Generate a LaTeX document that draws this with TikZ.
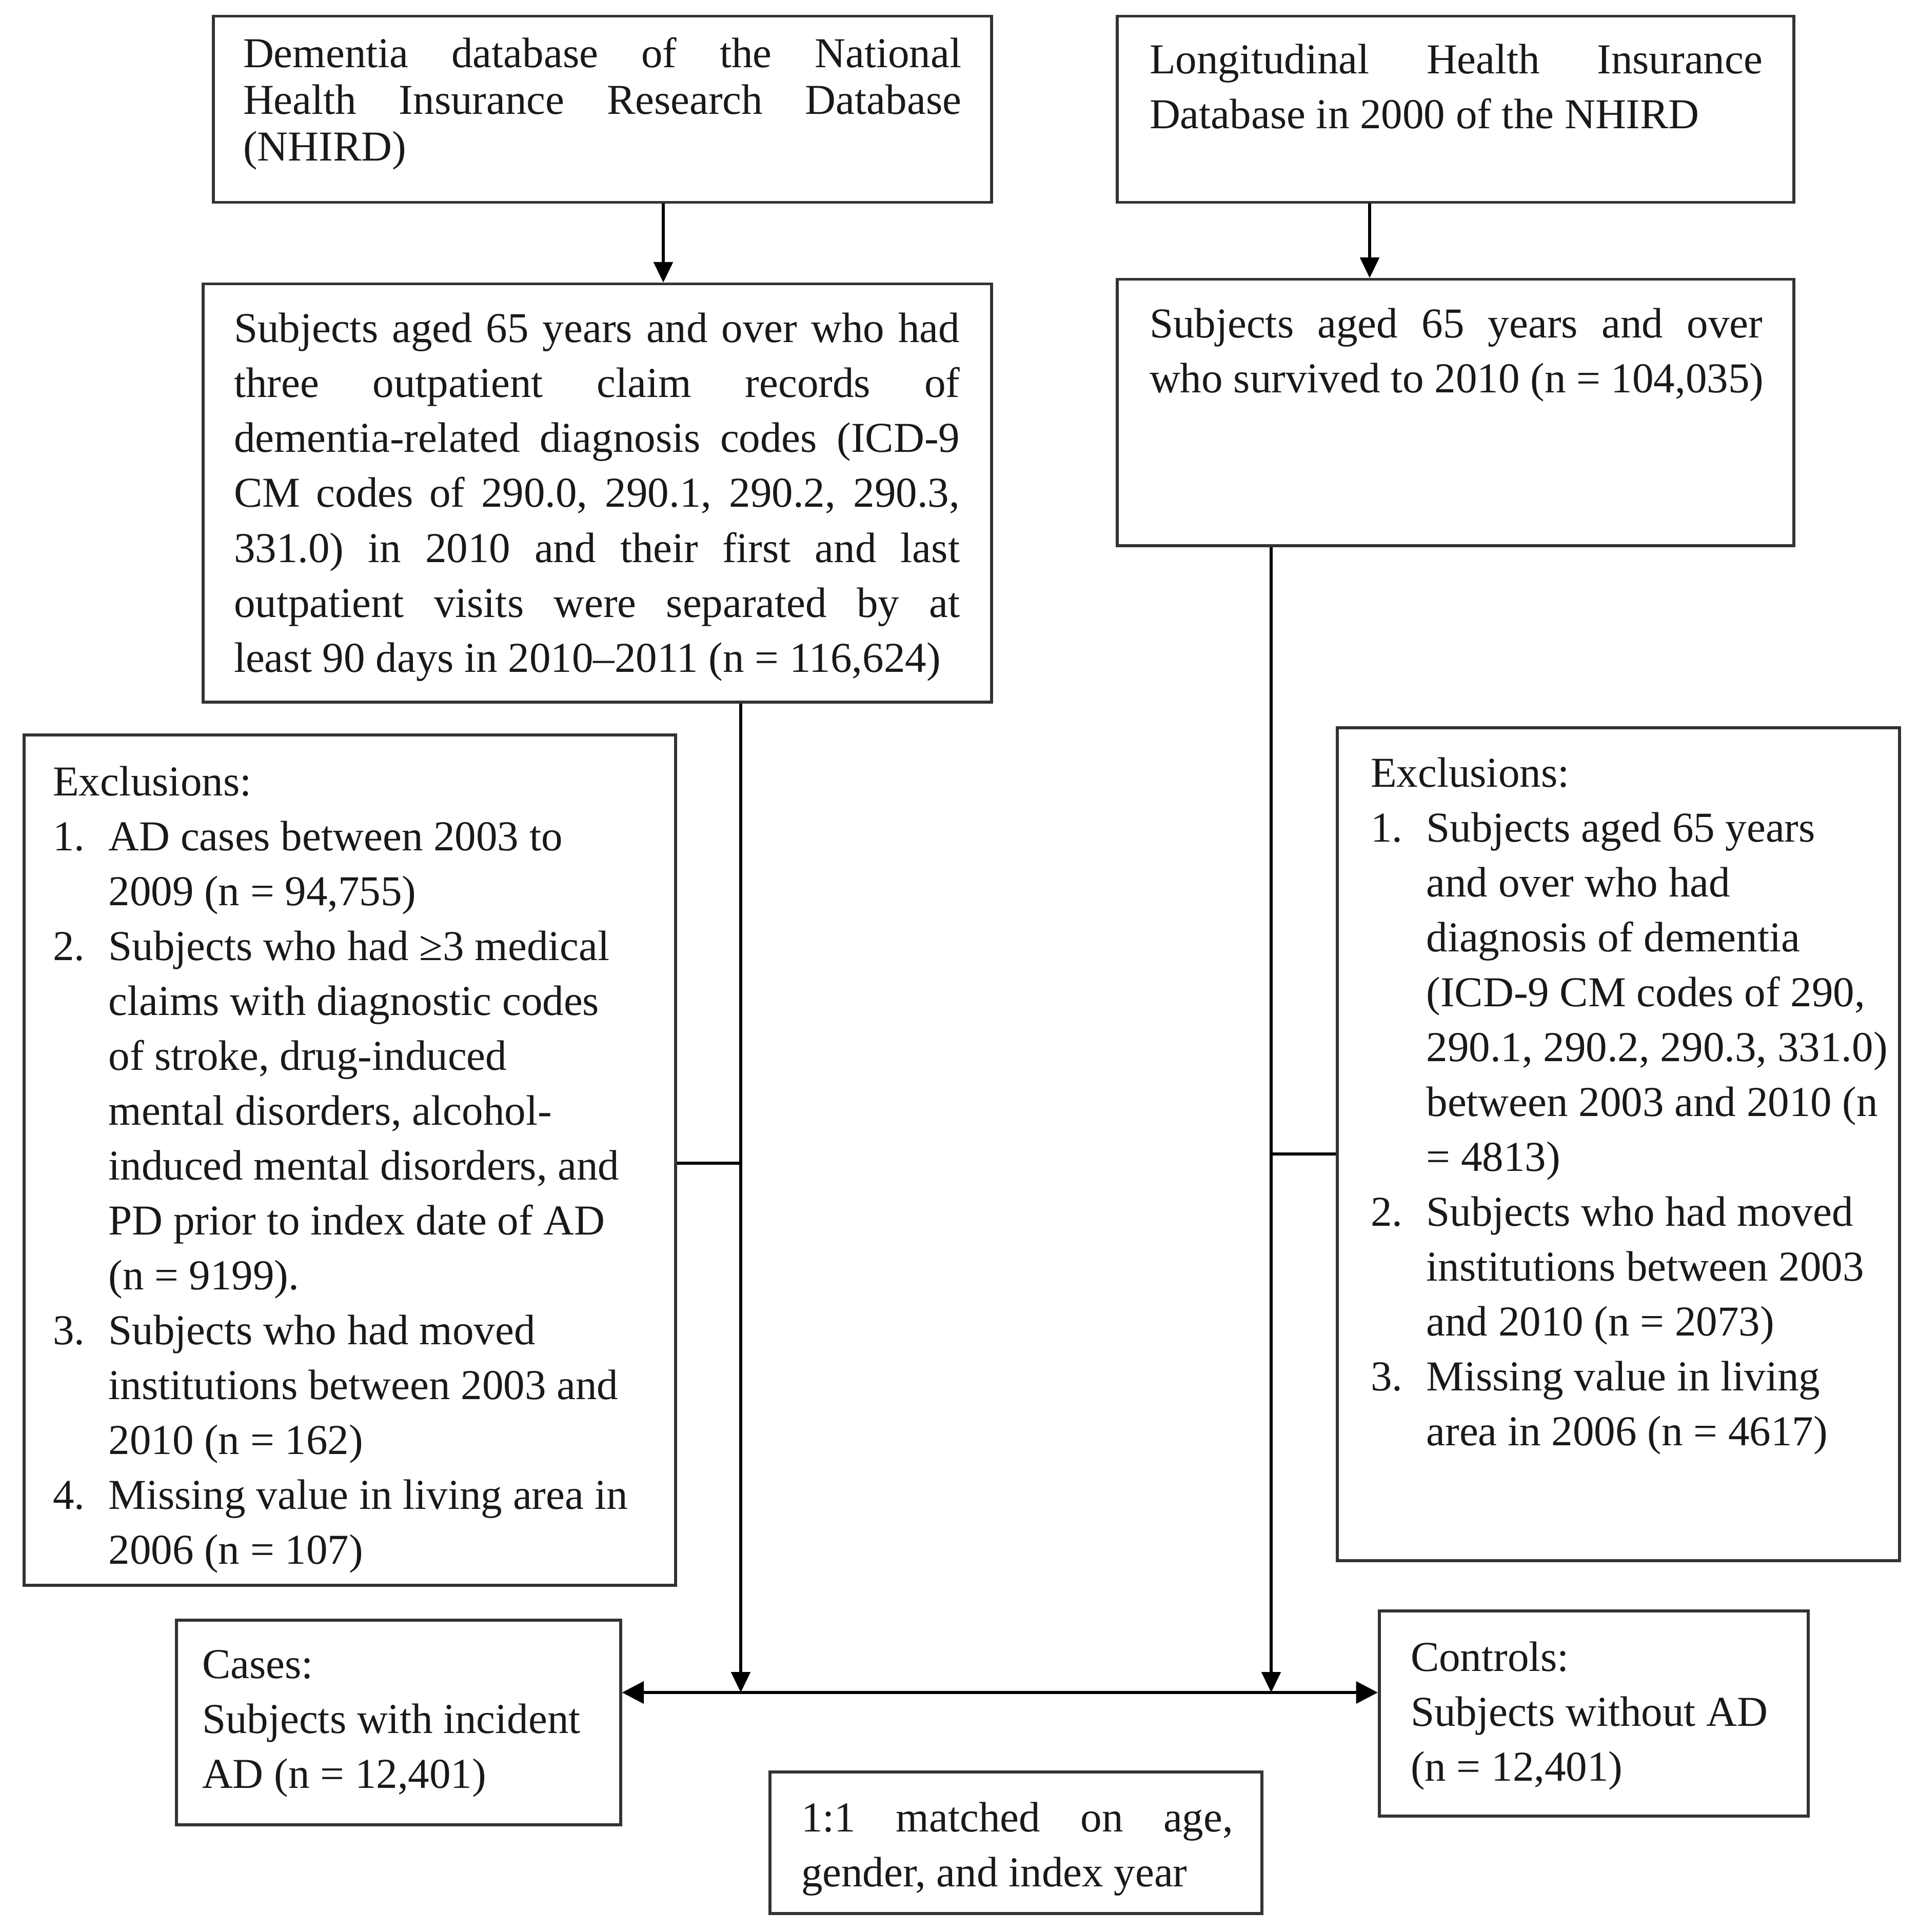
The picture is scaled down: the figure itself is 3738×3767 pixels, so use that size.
\documentclass[tikz,border=0pt]{standalone}
\usepackage{fontspec}
\setmainfont{Liberation Serif}
\usetikzlibrary{arrows.meta}
\newcommand\txtsz{\fontsize{16.6}{21.4}\selectfont}
\newcommand\txtsza{\fontsize{16.6}{18.2}\selectfont}
\newcommand\hangsp{\hspace*{21.7pt}}
\newcommand\numbox[1]{\makebox[21.7pt][l]{#1}}
\begin{document}
\begin{tikzpicture}[x=0.2pt,y=-0.2pt,
  box/.style={draw=black!80, line width=1.1pt, inner sep=0pt, anchor=north west},
  txt/.style={anchor=base west, inner sep=0pt, text=black!90, font=\txtsz},
  conn/.style={line width=1.1pt, draw=black},
  arr/.style={conn, -{Triangle[length=8pt,width=7.4pt]}},
  darr/.style={conn, line width=1.3pt, {Triangle[length=8.5pt,width=8.5pt]}-{Triangle[length=8.5pt,width=8.5pt]}}
]
\fill[white] (0,0) rectangle (3738,3767);
\useasboundingbox (0,0) rectangle (3738,3767);

% boxes
\node[box, minimum width=303.4pt, minimum height=72.6pt] (A) at (413,29) {};
\node[box, minimum width=263.8pt, minimum height=72.6pt] (B) at (2175,29) {};
\node[box, minimum width=307.4pt, minimum height=163pt] (C) at (393,551) {};
\node[box, minimum width=263.8pt, minimum height=103.8pt] (D) at (2175,542) {};
\node[box, minimum width=254pt, minimum height=331.6pt] (E) at (44,1430) {};
\node[box, minimum width=219.2pt, minimum height=324.8pt] (F) at (2604,1416) {};
\node[box, minimum width=173.2pt, minimum height=79.8pt] (G) at (341,3156) {};
\node[box, minimum width=167.2pt, minimum height=80pt] (H) at (2686,3138) {};
\node[box, minimum width=191.8pt, minimum height=55.2pt] (I) at (1498,3452) {};

% texts
\node[txt, font=\txtsza] (tA) at (473,132) {\begin{tabular}[t]{@{}l@{}}
\makebox[280pt][s]{Dementia database of the National}\\
\makebox[280pt][s]{Health Insurance Research Database}\\
(NHIRD)\end{tabular}};

\node[txt] (tB) at (2240,144) {\begin{tabular}[t]{@{}l@{}}
\makebox[239pt][s]{Longitudinal Health Insurance}\\
Database in 2000 of the NHIRD\end{tabular}};

\node[txt] (tC) at (455,668) {\begin{tabular}[t]{@{}l@{}}
\makebox[283pt][s]{Subjects aged 65 years and over who had}\\
\makebox[283pt][s]{three outpatient claim records of}\\
\makebox[283pt][s]{dementia-related diagnosis codes (ICD-9}\\
\makebox[283pt][s]{CM codes of 290.0, 290.1, 290.2, 290.3,}\\
\makebox[283pt][s]{331.0) in 2010 and their first and last}\\
\makebox[283pt][s]{outpatient visits were separated by at}\\
least 90 days in 2010–2011 (n = 116,624)\end{tabular}};

\node[txt] (tD) at (2240,659) {\begin{tabular}[t]{@{}l@{}}
\makebox[239pt][s]{Subjects aged 65 years and over}\\
who survived to 2010 (n = 104,035)\end{tabular}};

\node[txt] (tE) at (102,1551) {\begin{tabular}[t]{@{}l@{}}
Exclusions:\\
\numbox{1.}AD cases between 2003 to\\
\hangsp 2009 (n = 94,755)\\
\numbox{2.}Subjects who had ≥3 medical\\
\hangsp claims with diagnostic codes\\
\hangsp of stroke, drug-induced\\
\hangsp mental disorders, alcohol-\\
\hangsp induced mental disorders, and\\
\hangsp PD prior to index date of AD\\
\hangsp (n = 9199).\\
\numbox{3.}Subjects who had moved\\
\hangsp institutions between 2003 and\\
\hangsp 2010 (n = 162)\\
\numbox{4.}Missing value in living area in\\
\hangsp 2006 (n = 107)\end{tabular}};

\node[txt] (tF) at (2671,1534) {\begin{tabular}[t]{@{}l@{}}
Exclusions:\\
\numbox{1.}Subjects aged 65 years\\
\hangsp and over who had\\
\hangsp diagnosis of dementia\\
\hangsp (ICD-9 CM codes of 290,\\
\hangsp 290.1, 290.2, 290.3, 331.0)\\
\hangsp between 2003 and 2010 (n\\
\hangsp = 4813)\\
\numbox{2.}Subjects who had moved\\
\hangsp institutions between 2003\\
\hangsp and 2010 (n = 2073)\\
\numbox{3.}Missing value in living\\
\hangsp area in 2006 (n = 4617)\end{tabular}};

\node[txt] (tG) at (393,3272) {\begin{tabular}[t]{@{}l@{}}
Cases:\\
Subjects with incident\\
AD (n = 12,401)\end{tabular}};

\node[txt] (tH) at (2749,3258) {\begin{tabular}[t]{@{}l@{}}
Controls:\\
Subjects without AD\\
(n = 12,401)\end{tabular}};

\node[txt] (tI) at (1561,3571) {\begin{tabular}[t]{@{}l@{}}
\makebox[168.4pt][s]{1:1 matched on age,}\\
gender, and index year\end{tabular}};

% connector coordinates
\coordinate (xa) at (1293,0);
\coordinate (xb) at (2670,0);
\coordinate (ml) at (1444,3300);
\coordinate (mr) at (2478,3300);
\coordinate (el) at (1444,2268);
\coordinate (fr) at (2478,2250);

\draw[arr] (A.south -| xa) -- (C.north -| xa);
\draw[arr] (B.south -| xb) -- (D.north -| xb);
\draw[arr] (C.south -| ml) -- (ml);
\draw[arr] (D.south -| mr) -- (mr);
\draw[conn] (E.east |- el) -- (el);
\draw[conn] (fr) -- (F.west |- fr);
\draw[darr] (G.east |- ml) -- (H.west |- ml);
\end{tikzpicture}
\end{document}
